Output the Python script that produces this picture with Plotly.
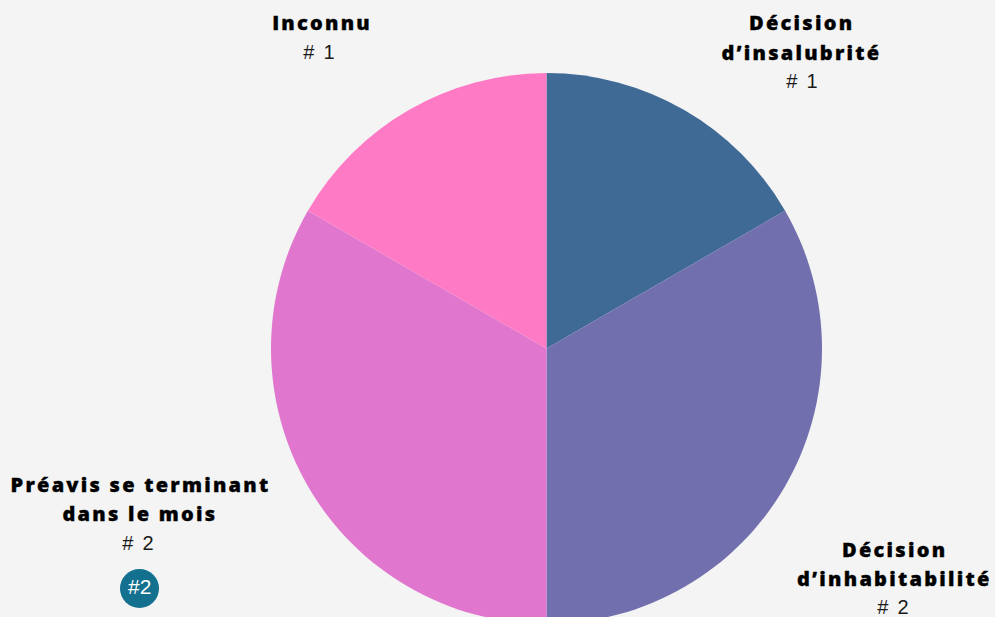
import plotly.graph_objects as go

categories = ["Décision d’insalubrité", "Décision d’inhabitabilité", "Préavis se terminant dans le mois", "Inconnu"]
values = [1, 2, 2, 1]
colors = ["#406a96", "#716fae", "#e076ce", "#ff7ac4"]
label_lines = [["Décision", "d’insalubrité"], ["Décision", "d’inhabitabilité"], ["Préavis se terminant", "dans le mois"], ["Inconnu"]]
label_pos = [(801, 23), (894, 549), (140, 484), (321.5, 23)]
count_pos = [(803, 81), (893.5, 607), (138.5, 543), (320, 52)]

W, H = 995, 624
cx, cy, r = 546.5, 348.5, 275.5
fig = go.Figure(go.Pie(labels=categories, values=values, sort=False, direction="clockwise", rotation=0,
    marker=dict(colors=colors, line=dict(width=0)), textinfo="none", showlegend=False, hoverinfo="label+value",
    domain=dict(x=[(cx-r)/W, (cx+r)/W], y=[1-(cy+r)/H, 1-(cy-r)/H])))
anns = []
for lines, n, (x, y), (cxp, cyp) in zip(label_lines, values, label_pos, count_pos):
    for i, t in enumerate(lines):
        anns.append(dict(x=x/W, y=1-(y+i*29)/H, xref="paper", yref="paper", text=t, showarrow=False,
            xanchor="center", yanchor="middle", font=dict(family="Open Sans", size=20, weight=800, color="#000000")))
    anns.append(dict(x=cxp/W, y=1-cyp/H, xref="paper", yref="paper", text=f"# {n}", showarrow=False,
        xanchor="center", yanchor="middle", font=dict(family="Liberation Sans", size=20, color="#1a1a1a")))
anns.append(dict(x=139/W, y=1-586.5/H, xref="paper", yref="paper", text="#2", showarrow=False,
    xanchor="center", yanchor="middle", font=dict(family="Liberation Sans", size=21, color="#ffffff")))
fig.update_layout(width=W, height=H, margin=dict(l=0, r=0, t=0, b=0), paper_bgcolor="#f4f4f4", annotations=anns,
    shapes=[dict(type="circle", xref="paper", yref="paper", x0=120/W, x1=159/W, y0=1-608/H, y1=1-569/H,
                 fillcolor="#14708f", line=dict(width=0))])
post = """
document.documentElement.style.overflow='hidden';
document.body.style.margin='0';document.body.style.overflow='hidden';document.body.style.background='#f4f4f4';
document.querySelectorAll('.annotation-text').forEach(function(e){
  var s=e.getAttribute('style')||'';
  if(s.indexOf('Open Sans')>=0){e.style.letterSpacing='2.25px';e.style.stroke='#000';e.style.strokeWidth='0.35px';}
  else if(e.textContent.indexOf('# ')===0){e.style.letterSpacing='1.8px';}
});
"""
fig.write_html("out.html", post_script=post, config=dict(displayModeBar=False))
